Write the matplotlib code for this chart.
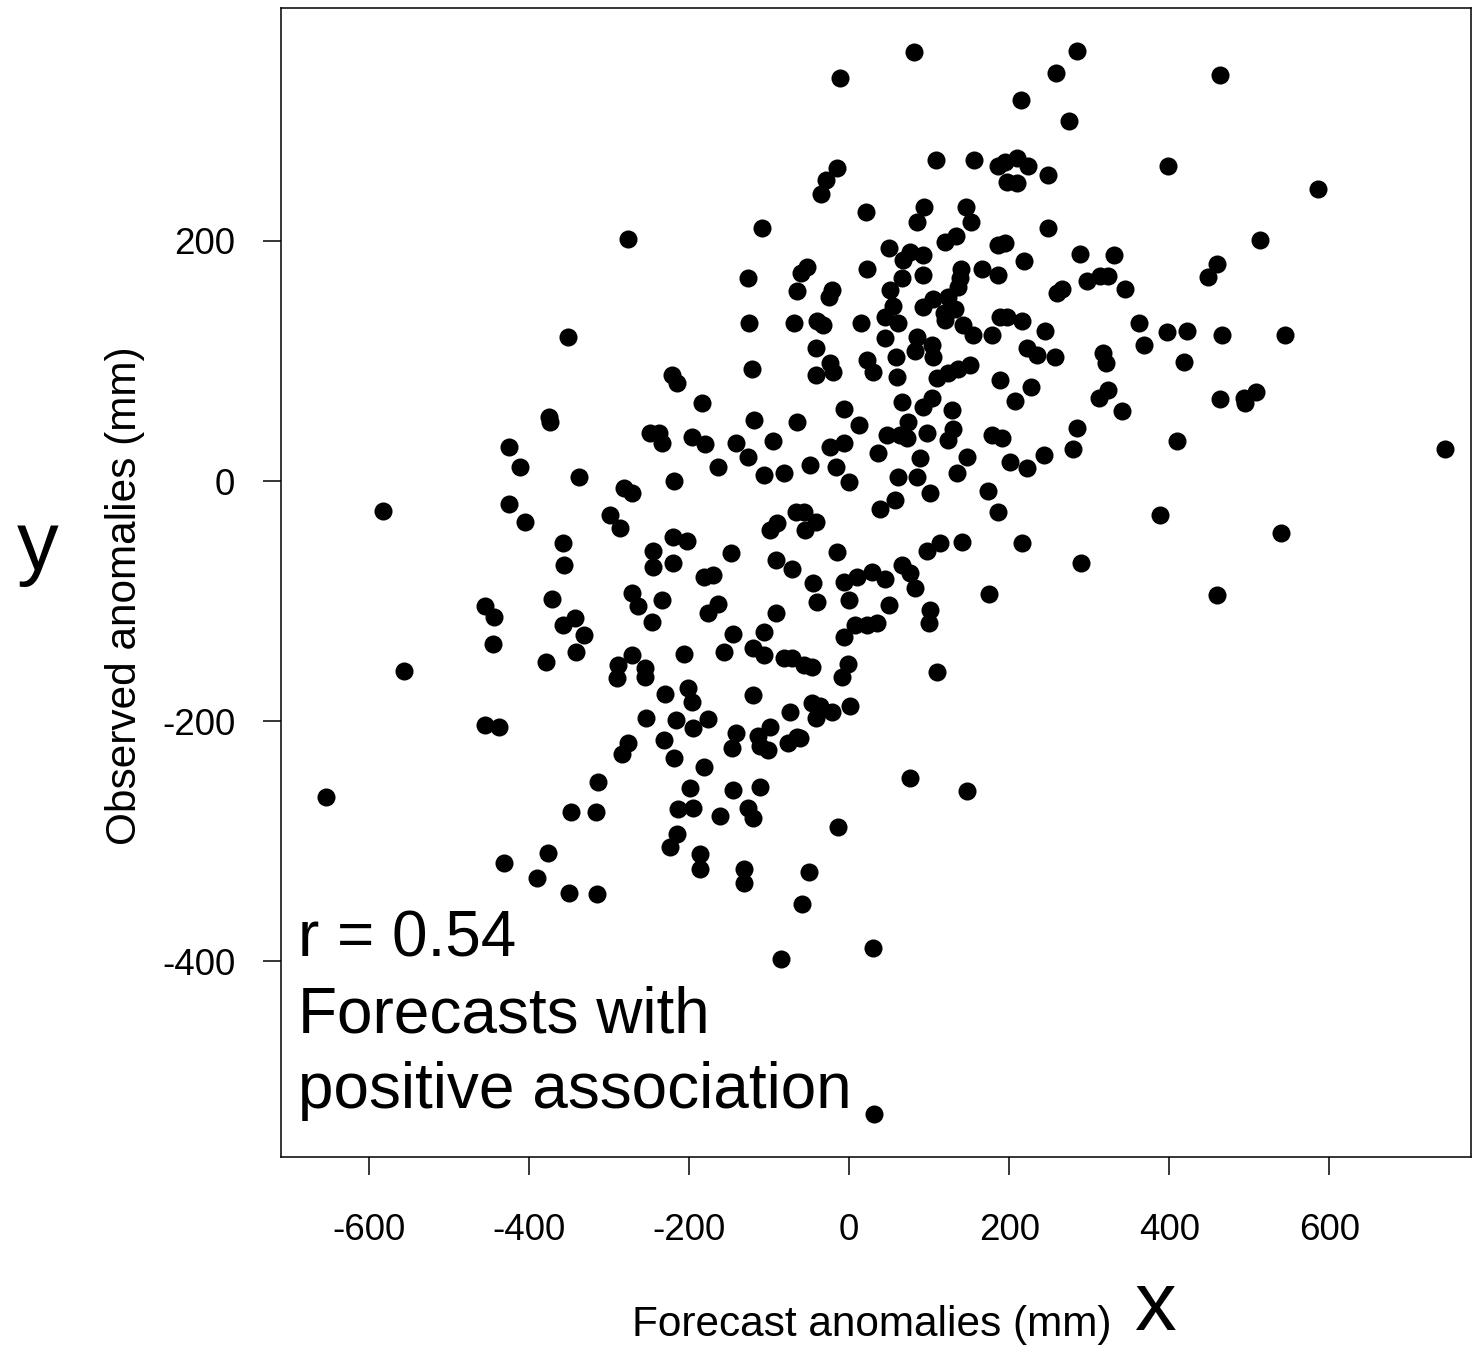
import matplotlib
matplotlib.use("Agg")
import matplotlib.pyplot as plt

plt.rcParams['font.family'] = ['Liberation Sans', 'DejaVu Sans']
plt.rcParams['axes.unicode_minus'] = False

# forecast anomalies (mm)
forecast = [
    81, 285, -11, 258, 463, 215, 275, -15, -29, -35,
    -276, -109, 21, 109, 156, 186, 94, 85, 146, 152,
    134, 120, 50, 76, 92, 67, 186, -53, -60, -126,
    22, 92, 66, 140, 166, 186, 139, -65, -21, -25,
    51, 136, 124, 105, 92, 55, 132, 118, 45, 61,
    -125, -69, -40, -33, 15, 120, 142, 189,
    210, 195, 224, 197, 210, 249, 399, 586, 249, 195,
    218, 288, 331, 460, 448, 513, 297, 314, 324, 345,
    266, 260, 197, 216, 245, 362, 397, 422,
    -351, -375, -374, -425, -411, -338, -425, -405, -358, -356, -582,
    -122, -221, -215, -184, -119, -65, -249, -238, -234, -196,
    -180, -142, -95, -126, -164, -107, -81, -219, -282, -271,
    -299, -287, -220, -203, -90, -99, -67, -245, -148, -245,
    -220, -91, -71, -182, -170,
    45, 85, 104, 105, 82, 155, 179, -41, -24, -20,
    -41, 22, 30, 59, 60, 110, 124, 136, 151, 188,
    66, 92, 104, 129, -7, 12, 74, 47, 64, 72,
    97, 130, 124, 179, -24, -7, -17, 36, -49, 89,
    147, 135, 0, 61, 85, 101, 174, 39, 57, 186,
    -57, -42, -55, -15, 97, 114, 141, -45, -7, 10,
    29, 45, 66, 76, 175,
    368, 418, 222, 235, 257, 317, 321, 227, 207, 324,
    312, 341, 410, 285, 280, 191, 201, 222, 244, 389,
    216, 290,
    466, 544, 463, 494, 508, 493, 745, 540, 460,
    -455, -444, -445, -556, -371, -357, -342, -332, -341, -379,
    -455, -437, -654, -347, -317, -314,
    -271, -264, -234, -246, -176, -164, -91, -145, -157, -107,
    -120, -107, -82, -71, -271, -289, -290, -255, -255, -206,
    -230, -202, -196, -120, -74, -254, -216, -195, -176, -142,
    -146, -114, -99, -111, -101, -76, -65, -276, -284, -232,
    -219, -182, -199, -145, -112, -127, -120, -214, -195, -162,
    -215,
    82, -40, 0, 50, 101, 100, -7, 7, 22, 35,
    -57, -46, -1, -9, 110, -46, -36, -42, -21, 1,
    -61, 76, 147, -14,
    -431, -376, -390, -350, -315, -224, -186, -186, -131, -131,
    -50, -59, -85, 30, 31,
]

# observed anomalies (mm)
observed = [
    357, 358, 336, 340, 338, 317, 300, 261, 251, 239,
    202, 211, 224, 267, 267, 262, 228, 216, 228, 216,
    204, 199, 194, 191, 188, 184, 197, 178, 173, 169,
    177, 172, 169, 177, 177, 172, 169, 158, 159, 153,
    159, 162, 153, 152, 145, 146, 143, 140, 137, 132,
    132, 132, 133, 130, 132, 134, 130, 137,
    269, 266, 262, 249, 248, 255, 262, 243, 211, 198,
    183, 189, 188, 181, 170, 201, 167, 171, 171, 160,
    160, 157, 137, 133, 125, 132, 124, 125,
    120, 53, 49, 28, 12, 3, -19, -34, -52, -70, -25,
    93, 88, 82, 65, 51, 49, 40, 40, 32, 37,
    31, 32, 33, 20, 12, 5, 7, 0, -6, -10,
    -28, -39, -47, -50, -35, -41, -26, -58, -60, -72,
    -68, -66, -73, -80, -78,
    119, 120, 113, 103, 108, 122, 122, 111, 98, 91,
    88, 101, 91, 103, 87, 86, 90, 93, 97, 84,
    66, 62, 69, 59, 60, 47, 49, 38, 38, 36,
    40, 43, 34, 38, 28, 32, 12, 23, 13, 19,
    20, 7, -1, 3, 3, -10, -8, -23, -16, -26,
    -26, -34, -41, -59, -58, -52, -51, -85, -84, -80,
    -76, -82, -70, -77, -94,
    113, 99, 111, 105, 103, 107, 98, 78, 67, 76,
    69, 58, 33, 44, 27, 36, 16, 11, 22, -28,
    -52, -68,
    122, 122, 68, 65, 74, 69, 27, -43, -95,
    -104, -113, -136, -158, -98, -120, -114, -128, -142, -151,
    -203, -205, -263, -276, -276, -251,
    -93, -104, -99, -117, -110, -102, -110, -127, -142, -126,
    -139, -145, -147, -147, -145, -153, -164, -156, -163, -144,
    -177, -172, -184, -178, -192, -197, -199, -206, -198, -210,
    -222, -212, -205, -221, -224, -218, -213, -218, -227, -216,
    -231, -238, -256, -257, -255, -272, -281, -273, -272, -279,
    -294,
    -89, -101, -99, -103, -107, -118, -130, -120, -120, -118,
    -153, -155, -152, -163, -159, -185, -187, -197, -192, -187,
    -214, -247, -258, -288,
    -318, -310, -331, -343, -344, -305, -311, -323, -323, -335,
    -326, -352, -398, -389, -527,
]

x_ticks = [-600, -400, -200, 0, 200, 400, 600]
y_ticks = [-400, -200, 0, 200]

fig = plt.figure(figsize=(14.73, 13.47), dpi=100)
ax = fig.add_axes([281 / 1473, 190 / 1347, 1190 / 1473, 1149 / 1347])

ax.plot(forecast, observed, 'o', color='black', markersize=13, markeredgewidth=0, linestyle='none')

ax.set_xlim(-710, 777)
ax.set_ylim(-563, 394)
ax.set_xticks(x_ticks)
ax.set_yticks(y_ticks)
ax.tick_params(axis='both', labelsize=26.5, length=13, width=1.1, color='black')
ax.tick_params(axis='x', pad=27)
ax.tick_params(axis='y', pad=20)
for s in ax.spines.values():
    s.set_linewidth(1.1)

fig.text(125 / 1473, 1 - 596 / 1347, 'Observed anomalies (mm)', rotation=90,
         ha='center', va='center', fontsize=30.5)
fig.text(872 / 1473, 1 - 1336 / 1347, 'Forecast anomalies (mm)', ha='center', va='baseline',
         fontsize=30.5)
fig.text(38 / 1473, 1 - 570 / 1347, 'y', ha='center', va='baseline', fontsize=60)
fig.text(1155 / 1473, 0.0, 'x', ha='center', va='bottom', fontsize=60)

# multi-line text: baseline anchors the last line
fig.text(298 / 1473, 1 - 1108 / 1347, 'r = 0.54\nForecasts with\npositive association',
         ha='left', va='baseline', fontsize=46, linespacing=1.33)

fig.savefig('out.png', dpi=100)
